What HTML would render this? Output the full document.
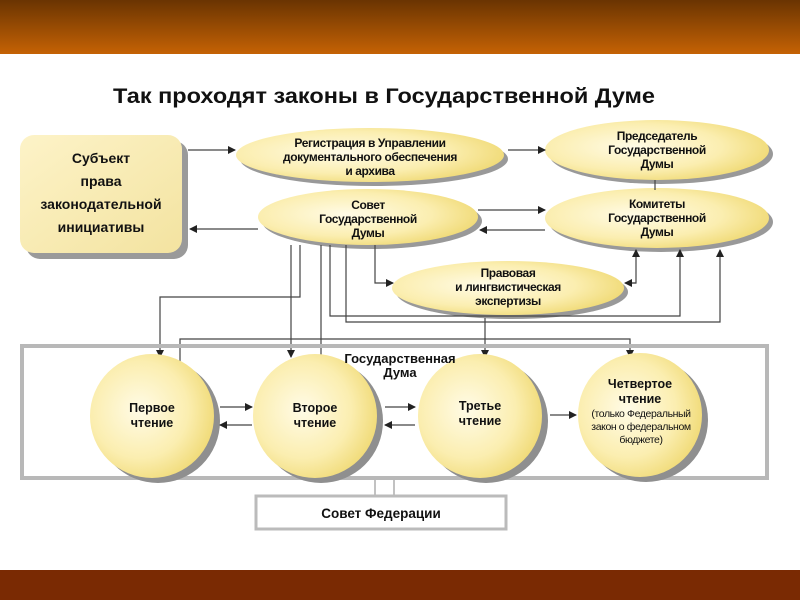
<!DOCTYPE html>
<html><head><meta charset="utf-8"><style>
html,body{margin:0;padding:0;width:800px;height:600px;overflow:hidden;background:#fff}
svg{display:block}
text{font-family:"Liberation Sans Narrow","Liberation Sans","DejaVu Sans",sans-serif;font-weight:bold;fill:#111}
.n{letter-spacing:-0.4px}
</style></head><body>
<svg width="800" height="600" viewBox="0 0 800 600" xmlns="http://www.w3.org/2000/svg">
<defs>
<linearGradient id="top" x1="0" y1="0" x2="0" y2="1">
<stop offset="0" stop-color="#6a3402"/><stop offset="1" stop-color="#c56204"/></linearGradient>
<radialGradient id="yel" cx="0.4" cy="0.45" r="0.65">
<stop offset="0" stop-color="#fffbe6"/><stop offset="0.6" stop-color="#fbeeb0"/><stop offset="1" stop-color="#efd870"/></radialGradient>
<linearGradient id="box" x1="0" y1="0" x2="1" y2="1">
<stop offset="0" stop-color="#fdf3c8"/><stop offset="1" stop-color="#f3e3a0"/></linearGradient>
<marker id="a" markerWidth="8" markerHeight="8" refX="7" refY="4" orient="auto" markerUnits="userSpaceOnUse">
<path d="M0,0 L8,4 L0,8 z" fill="#222"/></marker>
</defs>
<rect x="0" y="0" width="800" height="54" fill="url(#top)"/>
<rect x="0" y="570" width="800" height="30" fill="#7a2a03"/>

<text x="113" y="103" font-size="21" textLength="542" lengthAdjust="spacingAndGlyphs">Так проходят законы в Государственной Думе</text>

<rect x="26" y="141" width="162" height="118" rx="14" fill="#9a9a9a"/>
<rect x="20" y="135" width="162" height="118" rx="14" fill="url(#box)"/>
<g font-size="14" text-anchor="middle">
<text x="101" y="163">Субъект</text><text x="101" y="186">права</text>
<text x="101" y="209">законодательной</text><text x="101" y="232">инициативы</text></g>

<g>
<ellipse cx="374" cy="159" rx="134" ry="27" fill="#999"/>
<ellipse cx="370" cy="155" rx="134" ry="27" fill="url(#yel)"/>
<ellipse cx="661" cy="154" rx="112" ry="30" fill="#999"/>
<ellipse cx="657" cy="150" rx="112" ry="30" fill="url(#yel)"/>
<ellipse cx="372" cy="221" rx="110" ry="28" fill="#999"/>
<ellipse cx="368" cy="217" rx="110" ry="28" fill="url(#yel)"/>
<ellipse cx="661" cy="222" rx="112" ry="30" fill="#999"/>
<ellipse cx="657" cy="218" rx="112" ry="30" fill="url(#yel)"/>
<ellipse cx="512" cy="292" rx="116" ry="27" fill="#999"/>
<ellipse cx="508" cy="288" rx="116" ry="27" fill="url(#yel)"/>
</g>
<g font-size="12" text-anchor="middle" class="n">
<text x="370" y="147">Регистрация в Управлении</text>
<text x="370" y="161">документального обеспечения</text>
<text x="370" y="175">и архива</text>
<text x="657" y="140">Председатель</text><text x="657" y="154">Государственной</text><text x="657" y="168">Думы</text>
<text x="368" y="209">Совет</text><text x="368" y="223">Государственной</text><text x="368" y="237">Думы</text>
<text x="657" y="208">Комитеты</text><text x="657" y="222">Государственной</text><text x="657" y="236">Думы</text>
<text x="508" y="277">Правовая</text><text x="508" y="291">и лингвистическая</text><text x="508" y="305">экспертизы</text>
</g>

<g stroke="#444" stroke-width="1.2" fill="none">
<line x1="188" y1="150" x2="235" y2="150" marker-end="url(#a)"/>
<line x1="508" y1="150" x2="545" y2="150" marker-end="url(#a)"/>
<line x1="655" y1="180" x2="655" y2="190"/>
<line x1="258" y1="229" x2="190" y2="229" marker-end="url(#a)"/>
<line x1="478" y1="210" x2="545" y2="210" marker-end="url(#a)"/>
<line x1="545" y1="230" x2="480" y2="230" marker-end="url(#a)"/>
<polyline points="628,283 636,283 636,250" marker-end="url(#a)"/>
<line x1="636" y1="283" x2="625" y2="283" marker-end="url(#a)"/>
<polyline points="375,245 375,283 393,283" marker-end="url(#a)"/>
<polyline points="300,245 300,297 160,297 160,357" marker-end="url(#a)"/>
<line x1="291" y1="245" x2="291" y2="357" marker-end="url(#a)"/>
<line x1="321" y1="245" x2="321" y2="362"/>
<polyline points="346,245 346,322 720,322 720,250" marker-end="url(#a)"/>
<polyline points="330,245 330,316 680,316 680,250" marker-end="url(#a)"/>
<polyline points="180,362 180,339 630,339 630,357" marker-end="url(#a)"/>
<polyline points="485,318 485,357" marker-end="url(#a)"/>
</g>

<rect x="22" y="346" width="745" height="132" fill="none" stroke="#b8b8b8" stroke-width="4"/>

<g>
<circle cx="158" cy="421" r="62" fill="#8f8f8f"/><circle cx="152" cy="416" r="62" fill="url(#yel)"/>
<circle cx="321" cy="421" r="62" fill="#8f8f8f"/><circle cx="315" cy="416" r="62" fill="url(#yel)"/>
<circle cx="486" cy="421" r="62" fill="#8f8f8f"/><circle cx="480" cy="416" r="62" fill="url(#yel)"/>
<circle cx="646" cy="420" r="62" fill="#8f8f8f"/><circle cx="640" cy="415" r="62" fill="url(#yel)"/>
</g>
<text x="400" y="363" font-size="13" text-anchor="middle">Государственная</text>
<text x="400" y="377" font-size="13" text-anchor="middle">Дума</text>
<g font-size="12.5" text-anchor="middle">
<text x="152" y="412">Первое</text><text x="152" y="427">чтение</text>
<text x="315" y="412">Второе</text><text x="315" y="427">чтение</text>
<text x="480" y="410">Третье</text><text x="480" y="425">чтение</text>
<text x="640" y="388">Четвертое</text><text x="640" y="403">чтение</text>
</g>
<g font-size="10.5" text-anchor="middle" class="n">
<text x="641" y="417" style="font-weight:normal">(только Федеральный</text>
<text x="641" y="430" style="font-weight:normal">закон о федеральном</text>
<text x="641" y="443" style="font-weight:normal">бюджете)</text>
</g>
<g stroke="#444" stroke-width="1.2">
<line x1="220" y1="407" x2="252" y2="407" marker-end="url(#a)"/>
<line x1="252" y1="425" x2="220" y2="425" marker-end="url(#a)"/>
<line x1="385" y1="407" x2="415" y2="407" marker-end="url(#a)"/>
<line x1="415" y1="425" x2="385" y2="425" marker-end="url(#a)"/>
<line x1="550" y1="415" x2="576" y2="415" marker-end="url(#a)"/>
<line x1="375" y1="480" x2="375" y2="496" stroke="#999"/>
<line x1="394" y1="480" x2="394" y2="496" stroke="#999"/>
</g>
<rect x="256" y="496" width="250" height="33" fill="#fff" stroke="#bbb" stroke-width="3"/>
<text x="381" y="518" font-size="13.5" text-anchor="middle">Совет Федерации</text>
</svg>
</body></html>
